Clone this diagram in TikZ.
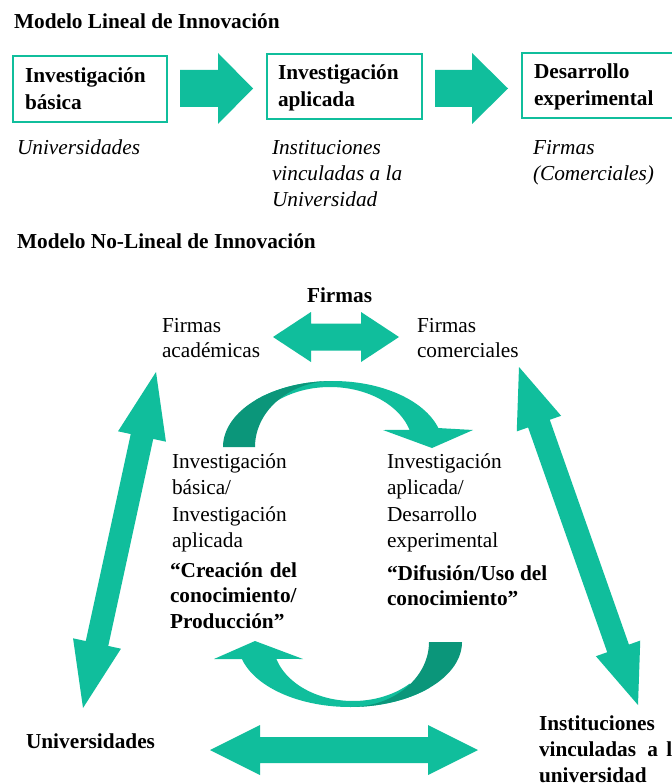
\documentclass[tikz,border=0pt]{standalone}
\usepackage{fontspec}
\setmainfont{Liberation Serif}
\usetikzlibrary{calc}

\definecolor{tealmain}{RGB}{16,190,156}
\definecolor{tealback}{RGB}{11,150,122}

% straight block arrow: #1 tail, #2 tip, #3 head length, #4 head half width, #5 shaft half width
\newcommand{\singleblock}[5]{%
  \path ($(#2)!#3!(#1)$) coordinate (hb);
  \fill[blockarrow] ($(#1)!#5!90:(#2)$) -- ($(hb)!#5!90:(#2)$) -- ($(hb)!#4!90:(#2)$) -- (#2)
    -- ($(hb)!#4!-90:(#2)$) -- ($(hb)!#5!-90:(#2)$) -- ($(#1)!#5!-90:(#2)$) -- cycle;}

% two-headed block arrow between two tips
\newcommand{\doubleblock}[5]{%
  \path ($(#1)!#3!(#2)$) coordinate (ha) ($(#2)!#3!(#1)$) coordinate (hb);
  \fill[blockarrow] (#1) -- ($(ha)!#4!-90:(#1)$) -- ($(ha)!#5!-90:(#1)$) -- ($(hb)!#5!90:(#2)$)
    -- ($(hb)!#4!90:(#2)$) -- (#2) -- ($(hb)!#4!-90:(#2)$) -- ($(hb)!#5!-90:(#2)$)
    -- ($(ha)!#5!90:(#1)$) -- ($(ha)!#4!90:(#1)$) -- cycle;}

% text nodes are anchored on the baseline of their last line
\tikzset{
  every node/.style={inner sep=0pt, outer sep=0pt},
  txt/.style={anchor=base west, align=left, font=\fontsize{21.3}{26.5}\selectfont},
  txtb/.style={anchor=base west, align=left, font=\fontsize{21.3}{25.5}\selectfont\bfseries},
  txti/.style={anchor=base west, align=left, font=\fontsize{21.3}{26}\selectfont\itshape},
  stagebox/.style={draw=tealmain, line width=2pt, anchor=north west, fill=white},
  blockarrow/.style={fill=tealmain},
  backface/.style={fill=tealback},
}

\begin{document}
\begin{tikzpicture}[x=1pt,y=-1pt]
\fill[white] (0,0) rectangle (671,783);
\useasboundingbox (0,0) rectangle (671,783);

% ---------- linear model ----------
\node[txtb] (title1) at (14,29) {Modelo Lineal de Innovación};

\node[stagebox, minimum width=154pt, minimum height=66pt] (b1) at (13,56) {};
\node[stagebox, minimum width=155pt, minimum height=65pt] (b2) at (267,54) {};
\node[stagebox, minimum width=160pt, minimum height=65pt] (b3) at (522,53) {};

\node[txtb, font=\fontsize{21.3}{27}\selectfont\bfseries] (t1) at (25,110) {Investigación\\básica};
\node[txtb, font=\fontsize{21.3}{27}\selectfont\bfseries] (t2) at (278,107) {Investigación\\aplicada};
\node[txtb, font=\fontsize{21.3}{27}\selectfont\bfseries] (t3) at (534,106) {Desarrollo\\experimental};

\coordinate (a1s) at (180,88.5);
\coordinate (a1e) at (253,88.5);
\coordinate (a2s) at (435,88.5);
\coordinate (a2e) at (508,88.5);
\singleblock{a1s}{a1e}{35pt}{35.5pt}{18.5pt}
\singleblock{a2s}{a2e}{36pt}{35.5pt}{18.5pt}

\node[txti] (u1) at (17,155) {Universidades};
\node[txti] (u2) at (272,207) {Instituciones\\vinculadas a la\\Universidad};
\node[txti] (u3) at (533,181) {Firmas\\(Comerciales)};

% ---------- non-linear model ----------
\node[txtb] (title2) at (17,248) {Modelo No-Lineal de Innovación};

\node[txtb] (firmas) at (307,302) {Firmas};
\node[txt, font=\fontsize{21.3}{25}\selectfont] (facad) at (162,357) {Firmas\\académicas};
\node[txt, font=\fontsize{21.3}{25}\selectfont] (fcom) at (417,357) {Firmas\\comerciales};

\node[txt] (invl) at (172,547.5) {Investigación\\básica/\\Investigación\\aplicada};
\node[txtb] (crea) at (170,628) {\hbox to 127pt{“Creación\hfill del}\\conocimiento/\\Producción”};
\node[txt] (invr) at (387,547.5) {Investigación\\aplicada/\\Desarrollo\\experimental};
\node[txtb, font=\fontsize{21.3}{25}\selectfont\bfseries] (difu) at (387,605) {“Difusión/Uso del\\conocimiento”};

\node[txtb] (univ) at (26,748) {Universidades};
\node[txtb, font=\fontsize{21.3}{26}\selectfont\bfseries] (inst) at (539,782) {Instituciones\\vinculadas\hspace{6pt} a\hspace{3pt} la\\universidad};

% two-headed links
\coordinate (fL) at (273,337);
\coordinate (fR) at (399,337);
\doubleblock{fL}{fR}{38pt}{25pt}{13.5pt}

\coordinate (uL) at (210,750);
\coordinate (uR) at (478,750);
\doubleblock{uL}{uR}{50pt}{25pt}{13pt}

\coordinate (lT) at (156,372);
\coordinate (lB) at (83,708);
\doubleblock{lT}{lB}{66pt}{24.5pt}{11.5pt}

\coordinate (rT) at (519,367);
\coordinate (rB) at (638,705);
\doubleblock{rT}{rB}{60pt}{23.5pt}{11.5pt}

% curved arrow over the top: basic -> applied research
\fill[blockarrow] plot[domain=-135:-16.7, samples=50, variable=\t] ({333+110*cos(\t)},{447+66*sin(\t)})
  -- (473,430) -- (432,448) -- (383,430)
  -- plot[domain=-16.5:-135, samples=50, variable=\t] ({330+83*cos(\t)},{447+60*sin(\t)}) -- cycle;
\fill[backface] plot[domain=-180:-90, samples=50, variable=\t] ({333+110*cos(\t)},{447+66*sin(\t)})
  -- plot[domain=-90:-180, samples=50, variable=\t] ({333+78*cos(\t)},{447+66*sin(\t)}) -- cycle;

% curved arrow underneath: applied -> basic research
\fill[blockarrow] plot[domain=45:164.8, samples=50, variable=\t] ({350+112*cos(\t)},{642+65*sin(\t)})
  -- (214,659) -- (255,641) -- (303,659)
  -- plot[domain=163.3:45, samples=50, variable=\t] ({353+80*cos(\t)},{642+59*sin(\t)}) -- cycle;
\fill[backface] plot[domain=0:90, samples=50, variable=\t] ({350+112*cos(\t)},{642+65*sin(\t)})
  -- plot[domain=90:0, samples=50, variable=\t] ({350+79*cos(\t)},{642+65*sin(\t)}) -- cycle;
\end{tikzpicture}
\end{document}
